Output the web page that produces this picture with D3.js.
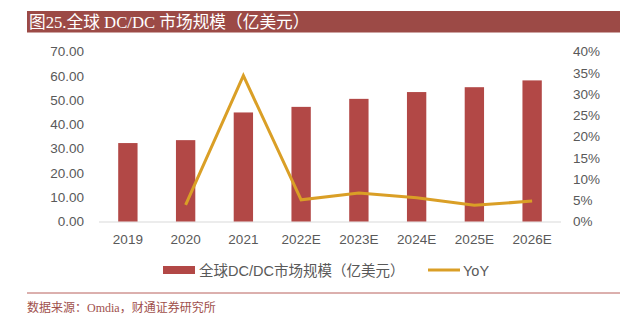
<!DOCTYPE html>
<html><head><meta charset="utf-8">
<script src="https://cdn.jsdelivr.net/npm/d3@7"></script>
<style>body{margin:0;background:#fff}svg{display:block}</style>
</head><body><svg id="c" width="620" height="322"></svg>
<script>
const categories = ["2019","2020","2021","2022E","2023E","2024E","2025E","2026E"];
const marketSize = [32.3,33.5,44.9,47.2,50.5,53.3,55.3,58.1];
const yoy = [null,0.039,0.343,0.051,0.067,0.056,0.038,0.048];
const leftTicks = [0,10,20,30,40,50,60,70];
const rightTicks = [0,0.05,0.10,0.15,0.20,0.25,0.30,0.35,0.40];
const titleText = "图25.全球 DC/DC 市场规模（亿美元）";
const sourceText = "数据来源：Omdia，财通证券研究所";
const seriesNames = ["全球DC/DC市场规模（亿美元）","YoY"];

const svg = d3.select("#c");
const barColor = "#B24846", lineColor = "#DA9F26", txt = "#595959";
const sans = "'Liberation Sans', Arial, 'Noto Sans CJK SC', sans-serif";
const serif = "'Liberation Serif', 'Times New Roman', 'Noto Sans CJK SC', serif";

// title bar
svg.append("rect").attr("x",27).attr("y",11).attr("width",593).attr("height",21.5).attr("fill","#9C4A46");
svg.append("text").attr("x",29).attr("y",28).attr("fill","#fff").style("font-family",serif).style("font-size","16.7px").text(titleText);

const x = d3.scaleBand().domain(categories).range([99,561]).paddingInner(0.665).paddingOuter(0.3325);
const yL = d3.scaleLinear().domain([0,70]).range([221.5,51.5]);
const yR = d3.scaleLinear().domain([0,0.40]).range([221.5,51.5]);

// baseline
svg.append("line").attr("x1",99).attr("x2",561).attr("y1",yL(0)+0.5).attr("y2",yL(0)+0.5).attr("stroke","#D9D9D9").attr("stroke-width",1);

// bars
svg.selectAll("rect.bar").data(categories).enter().append("rect").attr("class","bar")
  .attr("x",d=>x(d)).attr("width",x.bandwidth())
  .attr("y",(d,i)=>yL(marketSize[i])).attr("height",(d,i)=>yL(0)-yL(marketSize[i]))
  .attr("fill",barColor);

// line
const pts = categories.map((c,i)=>({c,v:yoy[i]})).filter(d=>d.v!==null);
svg.append("path").datum(pts)
  .attr("d",d3.line().x(d=>x(d.c)+x.bandwidth()/2).y(d=>yR(d.v)))
  .attr("fill","none").attr("stroke",lineColor).attr("stroke-width",3).attr("stroke-linejoin","miter");

// left axis
const gl = svg.append("g").attr("transform","translate(84,0)")
  .call(d3.axisLeft(yL).tickValues(leftTicks).tickFormat(d3.format(".2f")).tickSize(0).tickPadding(0));
gl.select(".domain").remove();
gl.selectAll("text").attr("fill",txt).style("font-family",sans).style("font-size","13.5px");

// right axis
const gr = svg.append("g").attr("transform","translate(573,0)")
  .call(d3.axisRight(yR).tickValues(rightTicks).tickFormat(d3.format(".0%")).tickSize(0).tickPadding(0));
gr.select(".domain").remove();
gr.selectAll("text").attr("fill",txt).style("font-family",sans).style("font-size","13.5px");

// bottom axis
const gb = svg.append("g").attr("transform","translate(0,"+(yL(0))+")")
  .call(d3.axisBottom(x).tickSize(0).tickPadding(13));
gb.select(".domain").remove();
gb.selectAll("text").attr("fill",txt).style("font-family",sans).style("font-size","13.5px");

// legend
const lg = svg.append("g");
lg.append("rect").attr("x",163).attr("y",266).attr("width",32).attr("height",8).attr("fill",barColor);
lg.append("text").attr("x",199).attr("y",275.5).attr("fill",txt).style("font-family",sans).style("font-size","14.5px").text(seriesNames[0]);
lg.append("line").attr("x1",428).attr("x2",460).attr("y1",270).attr("y2",270).attr("stroke",lineColor).attr("stroke-width",3);
lg.append("text").attr("x",463).attr("y",275.5).attr("fill",txt).style("font-family",sans).style("font-size","14.5px").text(seriesNames[1]);

// footer
svg.append("line").attr("x1",27).attr("x2",620).attr("y1",293).attr("y2",293).attr("stroke","#B8605C").attr("stroke-width",1);
svg.append("text").attr("x",27).attr("y",312).attr("fill","#A0504C").style("font-family",serif).style("font-size","12px").text(sourceText);
</script></body></html>
